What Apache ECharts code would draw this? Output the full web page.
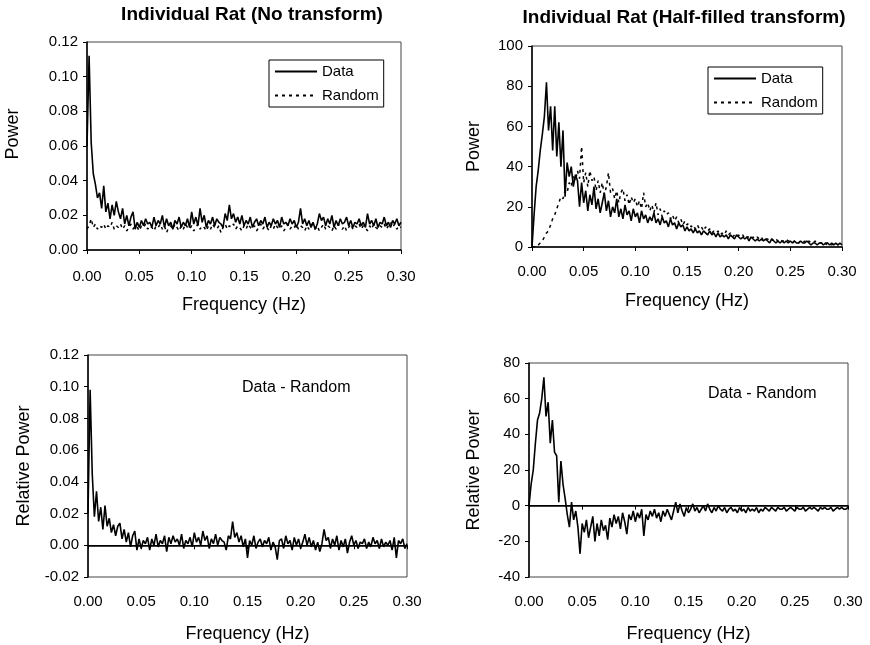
<!DOCTYPE html>
<html style="height: 100%">
<head>
<meta charset="utf-8">
</head>
<body style="height: 100%; margin: 0; background: #fff">
<div id="container" style="width: 870px; height: 645px"></div>
<script type="text/javascript" src="https://cdn.jsdelivr.net/npm/echarts@6/dist/echarts.min.js"></script>
<script type="text/javascript">
// frequency grid, 0 to 0.30 Hz in steps of 0.002
var freq = [];
for (var i = 0; i <= 150; i++) {
    freq.push(+(i * 0.002).toFixed(3));
}

var xTicks = ['0.00', '0.05', '0.10', '0.15', '0.20', '0.25', '0.30'];

// Individual rat, no transform
var noTransData = [
    .060, .112, .062, .044, .038, .030, .033, .024, .037, .022,
    .027, .018, .026, .020, .028, .022, .018, .024, .015, .020,
    .014, .019, .022, .012, .016, .013, .017, .014, .018, .015,
    .016, .013, .019, .014, .017, .015, .020, .013, .018, .014,
    .016, .012, .017, .015, .019, .013, .016, .014, .018, .013,
    .022, .015, .019, .014, .024, .016, .020, .013, .017, .015,
    .019, .014, .018, .016, .015, .013, .021, .017, .026, .018,
    .021, .016, .019, .015, .020, .014, .017, .015, .019, .013,
    .016, .018, .014, .017, .015, .019, .013, .016, .014, .018,
    .015, .017, .013, .019, .015, .016, .014, .018, .015, .017,
    .013, .016, .024, .015, .018, .014, .017, .013, .016, .012,
    .015, .021, .017, .019, .014, .018, .015, .020, .013, .017,
    .014, .018, .015, .016, .019, .014, .017, .013, .016, .015,
    .018, .014, .016, .013, .021, .015, .017, .014, .018, .013,
    .016, .015, .019, .014, .016, .013, .017, .015, .018, .014,
    .016
];
var noTransRandom = [
    .012, .014, .018, .013, .015, .012, .014, .013, .015, .012,
    .014, .013, .016, .012, .014, .013, .015, .012, .014, .011,
    .013, .015, .012, .014, .013, .011, .014, .013, .015, .012,
    .014, .013, .011, .014, .013, .015, .012, .014, .010, .013,
    .014, .012, .015, .013, .011, .014, .012, .015, .013, .012,
    .014, .011, .013, .015, .012, .014, .013, .011, .014, .012,
    .015, .013, .012, .014, .010, .013, .015, .012, .014, .013,
    .015, .012, .014, .013, .011, .014, .012, .015, .013, .012,
    .014, .011, .013, .015, .012, .014, .013, .011, .014, .012,
    .015, .013, .012, .014, .011, .013, .015, .012, .014, .013,
    .015, .012, .014, .013, .011, .014, .012, .015, .013, .012,
    .014, .011, .013, .015, .012, .014, .013, .011, .014, .012,
    .015, .013, .012, .014, .011, .013, .015, .012, .014, .013,
    .015, .012, .014, .013, .011, .014, .012, .015, .013, .012,
    .014, .013, .015, .012, .014, .016, .013, .015, .012, .014,
    .013
];
var noTransDiff = [
    .020, .098, .045, .018, .034, .015, .024, .010, .025, .012,
    .017, .008, .013, .006, .012, .014, .004, .010, .002, .008,
    -.001, .006, .009, -.003, .004, -.002, .003, .001, .005, -.003,
    .004, .000, .007, -.001, .003, .001, .006, -.004, .005, .001,
    .006, .002, .004, .000, .007, -.002, .003, .001, .005, -.001,
    .008, .002, .005, .000, .009, .003, .006, -.002, .004, .001,
    .007, .000, .005, .003, .002, -.003, .006, .004, .015, .005,
    .008, .002, .006, -.001, .004, -.008, .003, .000, .006, -.002,
    .002, .004, -.001, .003, .001, .005, -.003, .002, -.001, -.009,
    .003, .004, -.002, .006, .001, .003, -.003, .005, .000, .004,
    -.002, .002, .007, .000, .005, -.001, .003, -.003, .002, -.004,
    .001, .010, .003, .005, -.002, .004, .000, .006, -.003, .003,
    -.001, .004, -.005, .002, .006, .000, .003, -.002, .002, .001,
    .004, -.002, .002, -.001, .005, .001, .003, -.002, .004, -.001,
    .002, .000, .003, -.003, .005, -.008, .003, .001, .004, -.002,
    .001
];

// Individual rat, half-filled transform
var halfData = [
    0, 16, 30, 38, 48, 56, 65, 82, 58, 70,
    48, 70, 45, 62, 40, 58, 25, 42, 35, 40,
    30, 36, 33, 20, 32, 22, 28, 18, 26, 21,
    30, 19, 24, 17, 22, 27, 18, 23, 15, 20,
    17, 24, 15, 19, 14, 21, 16, 18, 13, 19,
    15, 17, 12, 18, 14, 16, 12, 15, 13, 17,
    12, 14, 11, 15, 12, 13, 10, 14, 11, 12,
    9, 12, 10, 11, 8, 10, 8, 9, 7, 9,
    7, 8, 6, 8, 7, 6, 8, 6, 7, 5,
    7, 5, 6, 5, 6, 4, 6, 5, 4, 6,
    5, 4, 5, 4, 5, 3, 5, 4, 3, 4,
    3, 4, 3, 4, 3, 2, 4, 3, 2, 3,
    2, 3, 2, 3, 2, 3, 2, 3, 2, 2,
    3, 2, 2, 3, 2, 1, 2, 2, 1, 2,
    2, 1, 2, 2, 1, 2, 1, 2, 1, 2,
    1
];
var halfRandom = [
    0, 0, 1, 1, 2, 3, 5, 7, 8, 11,
    14, 16, 19, 22, 25, 24, 28, 27, 32, 30,
    36, 33, 38, 34, 50, 32, 37, 30, 38, 33,
    35, 28, 33, 27, 32, 26, 30, 37, 27, 29,
    24, 28, 22, 27, 29, 23, 26, 21, 25, 22,
    24, 20, 23, 19, 27, 20, 22, 18, 21, 17,
    22, 16, 19, 15, 18, 16, 17, 14, 16, 13,
    15, 12, 14, 11, 13, 11, 12, 10, 11, 9,
    11, 9, 10, 8, 10, 8, 9, 7, 8, 7,
    8, 6, 7, 6, 8, 6, 7, 5, 6, 5,
    6, 5, 6, 4, 5, 5, 4, 5, 4, 5,
    4, 5, 3, 4, 4, 3, 4, 3, 4, 3,
    4, 3, 3, 4, 3, 3, 2, 3, 3, 2,
    3, 2, 3, 2, 3, 2, 2, 3, 2, 2,
    2, 2, 1, 2, 2, 1, 2, 2, 1, 2,
    2
];
var halfDiff = [
    0, 12, 20, 35, 48, 52, 60, 72, 50, 58,
    35, 48, 30, 28, 2, 25, 12, 4, -5, -12,
    2, -8, -3, -12, -27, -10, -15, -8, -18, -12,
    -6, -20, -10, -17, -8, -14, -11, -19, -7, -12,
    -5, -10, -6, -13, -4, -9, -16, -5, -8, -3,
    -9, -4, -7, -2, -17, -5, -8, -3, -6, -2,
    -7, -4, -9, -3, -6, -2, -5, -8, -3, 2,
    -4, 1, -3, -6, -1, -4, -2, 1, -3, -1,
    -4, -2, 0, -3, 1, -2, -4, -1, -3, 0,
    -2, -3, -1, -4, -2, -1, -3, -2, -4, -1,
    -3, -2, -4, -1, -3, -2, -3, -1, -4, -2,
    -3, -1, -2, -3, -1, -2, -3, -1, -2, -2,
    -1, -3, -2, -1, -2, -3, -1, -2, -2, -1,
    -3, -2, -1, -2, -1, -2, -3, -1, -2, -1,
    -2, -2, -1, -3, -2, -1, -2, -1, -2, -2,
    -1
];

var pairs = function (vals) {
    var res = [];
    for (var i = 0; i < vals.length; i++) {
        res.push([freq[i], vals[i]]);
    }
    return res;
};

var font = 'Liberation Sans, Arial, sans-serif';
var ink = '#000';

var dom = document.getElementById('container');
var myChart = echarts.init(dom, null, {renderer: 'canvas'});

var grids = [
    {left: 87, top: 42, width: 314, height: 208},
    {left: 532, top: 46, width: 310, height: 201},
    {left: 88, top: 355, width: 319, height: 222},
    {left: 529, top: 363, width: 319, height: 214}
];

var makeX = function (idx, gap, margin) {
    return {
        type: 'value', gridIndex: idx, min: 0, max: 0.3, interval: 0.05,
        name: 'Frequency (Hz)', nameLocation: 'middle', nameGap: gap,
        nameTextStyle: {fontSize: 18, color: ink, fontFamily: font},
        axisLine: {lineStyle: {color: ink, width: 1.5}},
        axisTick: {show: true, inside: false, length: 4, lineStyle: {color: ink}},
        axisLabel: {
            fontSize: 15, color: ink, fontFamily: font, margin: margin,
            formatter: function (v) { return xTicks[Math.round(v / 0.05)]; }
        },
        splitLine: {show: false}
    };
};

var makeY = function (idx, name, min, max, step, digits, gap, pad) {
    return {
        type: 'value', gridIndex: idx, min: min, max: max, interval: step,
        name: name, nameLocation: 'middle', nameGap: gap,
        nameTextStyle: {fontSize: 18, color: ink, fontFamily: font, padding: pad},
        axisLine: {show: true, lineStyle: {color: ink, width: 1.5}},
        axisTick: {show: true, inside: false, length: 4, lineStyle: {color: ink}},
        axisLabel: {
            fontSize: 15, color: ink, fontFamily: font, margin: 9,
            formatter: function (v) { return v.toFixed(digits); }
        },
        splitLine: {show: false}
    };
};

var lineSeries = function (name, idx, vals, dashed) {
    return {
        name: name, type: 'line', xAxisIndex: idx, yAxisIndex: idx,
        data: pairs(vals), symbol: 'none', showSymbol: false,
        lineStyle: {color: ink, width: dashed ? 1.5 : 1.6, type: dashed ? [3, 4] : 'solid'},
        itemStyle: {color: ink},
        z: dashed ? 2 : 3
    };
};

var zeroLine = {
    silent: true, symbol: 'none', animation: false,
    label: {show: false},
    lineStyle: {color: ink, width: 1, type: 'solid'},
    data: [{yAxis: 0}]
};

var legendBox = function (left, top) {
    return {
        data: ['Data', 'Random'], orient: 'vertical', left: left, top: top,
        padding: [4, 5, 4, 5], itemGap: 9, itemWidth: 42, itemHeight: 14,
        borderColor: ink, borderWidth: 1, backgroundColor: '#fff',
        itemStyle: {opacity: 0},
        textStyle: {fontSize: 15, color: ink, fontFamily: font}
    };
};

var diff1 = lineSeries('Data - Random', 2, noTransDiff, false);
diff1.markLine = zeroLine;
var diff2 = lineSeries('Data - Random', 3, halfDiff, false);
diff2.markLine = zeroLine;

var option = {
    animation: false,
    backgroundColor: '#fff',
    grid: grids.map(function (g) {
        return {left: g.left, top: g.top, width: g.width, height: g.height,
            show: true, borderColor: '#444', borderWidth: 1, backgroundColor: 'transparent'};
    }),
    xAxis: [makeX(0, 46, 19), makeX(1, 45, 17), makeX(2, 48, 17), makeX(3, 48, 17)],
    yAxis: [
        makeY(0, 'Power', 0, 0.12, 0.02, 2, 65, [0, 0, 0, 24]),
        makeY(1, 'Power', 0, 100, 20, 0, 49, 0),
        makeY(2, 'Relative Power', -0.02, 0.12, 0.02, 2, 55, 0),
        makeY(3, 'Relative Power', -40, 80, 20, 0, 46, 0)
    ],
    legend: [legendBox(269, 60), legendBox(708, 67)],
    graphic: [
        {type: 'text', x: 252, y: 15, style: {text: 'Individual Rat (No transform)', textAlign: 'center', textVerticalAlign: 'middle', fontSize: 19, fontWeight: 'bold', fontFamily: font, fill: ink}},
        {type: 'text', x: 684, y: 18, style: {text: 'Individual Rat (Half-filled transform)', textAlign: 'center', textVerticalAlign: 'middle', fontSize: 19, fontWeight: 'bold', fontFamily: font, fill: ink}},
        {type: 'text', x: 242, y: 388, style: {text: 'Data - Random', textAlign: 'left', textVerticalAlign: 'middle', fontSize: 16, fontFamily: font, fill: ink}},
        {type: 'text', x: 708, y: 394, style: {text: 'Data - Random', textAlign: 'left', textVerticalAlign: 'middle', fontSize: 16, fontFamily: font, fill: ink}}
    ],
    series: [
        lineSeries('Random', 0, noTransRandom, true),
        lineSeries('Data', 0, noTransData, false),
        lineSeries('Random', 1, halfRandom, true),
        lineSeries('Data', 1, halfData, false),
        diff1,
        diff2
    ]
};

if (option && typeof option === 'object') {
    myChart.setOption(option);
}
</script>
</body>
</html>
